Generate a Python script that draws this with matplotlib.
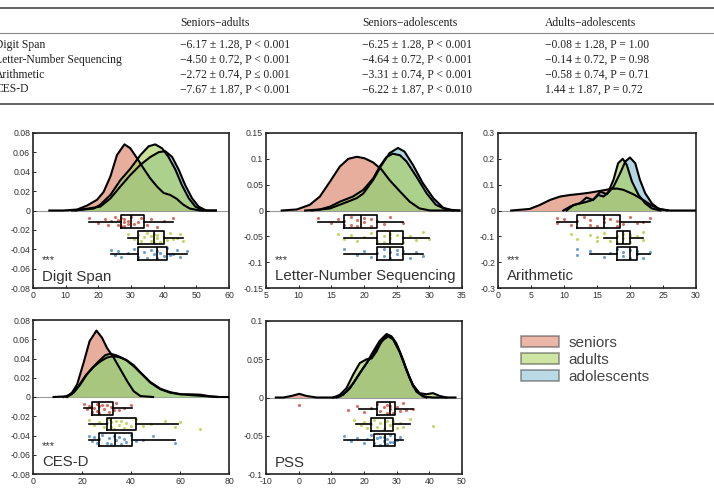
import matplotlib.pyplot as plt
from matplotlib.patches import Patch

plt.rcParams['font.family'] = ['Liberation Sans', 'DejaVu Sans']
plt.rcParams['axes.unicode_minus'] = False

# ---- table ----
TABLE_COLS = ['Seniors\u2212adults', 'Seniors\u2212adolescents', 'Adults\u2212adolescents']
TABLE_ROWS = ['Digit Span', 'Letter-Number Sequencing', 'Arithmetic', 'CES-D']
TABLE_CELLS = [
    ['\u22126.17 \u00b1 1.28, P < 0.001', '\u22126.25 \u00b1 1.28, P < 0.001', '\u22120.08 \u00b1 1.28, P = 1.00'],
    ['\u22124.50 \u00b1 0.72, P < 0.001', '\u22124.64 \u00b1 0.72, P < 0.001', '\u22120.14 \u00b1 0.72, P = 0.98'],
    ['\u22122.72 \u00b1 0.74, P \u2264 0.001', '\u22123.31 \u00b1 0.74, P < 0.001', '\u22120.58 \u00b1 0.74, P = 0.71'],
    ['\u22127.67 \u00b1 1.87, P < 0.001', '\u22126.22 \u00b1 1.87, P < 0.010', '1.44 \u00b1 1.87, P = 0.72'],
]

GROUPS = ['seniors', 'adults', 'adolescents']
FILL = {'seniors': '#d97b61', 'adults': '#a8d058', 'adolescents': '#82bcd2'}
DOT = {'seniors': '#d24a3a', 'adults': '#b4d040', 'adolescents': '#4a8ac8'}

# ---- density curves (x, density) ----
DS_SEN = [(5, 0), (9.2, 0), (13.5, 0.001), (16.5, 0.005), (19.6, 0.011), (21.6, 0.019), (23.7, 0.035),
          (25.7, 0.057), (28, 0.068), (29.8, 0.064), (31.8, 0.054), (33.9, 0.043), (35.9, 0.033),
          (38, 0.0245), (40, 0.018), (42, 0.016), (44, 0.012), (46, 0.006), (48, 0.002), (51, 0), (56, 0)]
DS_ADU = [(12, 0), (18.6, 0.002), (20.6, 0.006), (23.7, 0.016), (26.7, 0.031), (29.8, 0.043),
          (32.9, 0.057), (35.4, 0.066), (37.4, 0.068), (39.5, 0.064), (41.5, 0.055), (43.6, 0.042),
          (45.6, 0.026), (47.7, 0.0125), (49.7, 0.004), (52, 0)]
DS_ADO = [(13, 0), (20.6, 0.004), (23.7, 0.0125), (26.7, 0.0245), (29.8, 0.0365), (32.9, 0.047),
          (35.9, 0.055), (38.5, 0.060), (40.5, 0.061), (42.6, 0.055), (44.6, 0.042), (46.6, 0.026),
          (48.7, 0.0125), (50.7, 0.004), (53, 0), (56, 0)]

LNS_SEN = [(7.4, 0), (9.7, 0.002), (11.7, 0.011), (13.25, 0.027), (14.8, 0.056), (16.3, 0.085),
           (17.6, 0.100), (18.9, 0.104), (20.1, 0.101), (21.4, 0.093), (22.7, 0.079), (23.9, 0.059),
           (25.5, 0.037), (27, 0.017), (28.5, 0.004), (30.1, 0), (34.6, 0)]
LNS_ADU = [(11, 0), (13.25, 0.002), (14.8, 0.0075), (16.3, 0.017), (18.3, 0.027), (19.9, 0.040),
           (21.4, 0.062), (22.4, 0.085), (23.4, 0.103), (24.4, 0.110), (25.5, 0.107), (26.5, 0.095),
           (28, 0.066), (29.6, 0.033), (31, 0.011), (32.6, 0.002), (34.6, 0)]
LNS_ADO = [(12, 0), (14.8, 0.004), (17.3, 0.016), (18.9, 0.024), (19.9, 0.033), (21.4, 0.059),
           (22.7, 0.088), (23.9, 0.111), (25.2, 0.121), (26.2, 0.114), (27.5, 0.088), (29, 0.053),
           (30.6, 0.024), (32.1, 0.0055), (33.6, 0)]

AR_SEN = [(2, 0), (4.8, 0.006), (6.3, 0.021), (7.9, 0.041), (9.4, 0.054), (10.9, 0.060), (12.4, 0.064),
          (13.9, 0.069), (15.5, 0.076), (17, 0.083), (18, 0.085), (19, 0.080), (20.5, 0.063),
          (22, 0.041), (23.3, 0.019), (24.6, 0.005), (26.1, 0), (30, 0)]
AR_ADU = [(9.9, 0), (10.9, 0.015), (11.9, 0.024), (13.2, 0.032), (14.4, 0.041), (15.2, 0.060),
          (16, 0.054), (16.7, 0.071), (17.5, 0.119), (18.2, 0.183), (18.9, 0.200), (19.5, 0.177),
          (20.3, 0.112), (21.3, 0.060), (22.3, 0.028), (23.3, 0.008), (24.6, 0)]
AR_ADO = [(10.4, 0), (11.4, 0.021), (12.4, 0.028), (13.4, 0.050), (14.4, 0.041), (15.5, 0.073),
          (16.5, 0.063), (17.5, 0.092), (18.5, 0.144), (19.3, 0.190), (20, 0.205), (20.8, 0.183),
          (21.5, 0.119), (22.3, 0.067), (23.3, 0.028), (24.3, 0.007), (25.6, 0)]

CES_SEN = [(8.4, 0), (13.9, 0.0007), (15.9, 0.0045), (18, 0.013), (20.7, 0.036), (23.1, 0.058),
           (25.9, 0.069), (28.2, 0.0615), (30.2, 0.051), (32.9, 0.041), (35.6, 0.029), (38.4, 0.0166),
           (41.1, 0.006), (43.8, 0.001), (49, 0)]
CES_ADU = [(12.5, 0), (15.9, 0.003), (18.6, 0.0114), (21.4, 0.022), (24.1, 0.030), (26.8, 0.037),
           (29.5, 0.0435), (31.6, 0.045), (34.3, 0.043), (37.7, 0.039), (41.1, 0.032), (44.5, 0.0235),
           (47.9, 0.0149), (52, 0.008), (56, 0.0045), (60.1, 0.0028), (64.2, 0.0028), (68.3, 0.0024),
           (72.4, 0.0007), (76.5, 0), (80, 0)]
CES_ADO = [(13.9, 0), (16.6, 0.0045), (19.3, 0.013), (22, 0.0235), (24.8, 0.0314), (27.5, 0.037),
           (30.2, 0.041), (32.9, 0.0425), (35.6, 0.041), (38.4, 0.038), (41.1, 0.033), (44.5, 0.024),
           (47.9, 0.0155), (52, 0.0086), (56, 0.005), (60.1, 0.003), (64.2, 0.002), (69.7, 0.001),
           (75.1, 0)]

PSS_SEN = [(-7, 0), (-4.7, 0), (-2.2, 0.002), (0.2, 0.0048), (2.4, 0.002), (5.5, 0), (10.6, 0),
           (12.6, 0.0013), (14.6, 0.0078), (16.7, 0.0187), (18.7, 0.032), (20.8, 0.045), (22.8, 0.060),
           (24.8, 0.074), (26.9, 0.083), (28.4, 0.080), (29.9, 0.071), (32, 0.049), (34, 0.025),
           (36, 0.0078), (38.1, 0.0013), (41.1, 0), (48, 0)]
PSS_ADU = [(10.6, 0), (12.6, 0.0035), (14.6, 0.012), (16.7, 0.030), (18.7, 0.045), (20.8, 0.050),
           (22.3, 0.051), (23.8, 0.060), (25.3, 0.073), (27.1, 0.082), (28.9, 0.077), (30.9, 0.060),
           (33, 0.036), (35, 0.0165), (37, 0.0057), (39.1, 0.0043), (41.1, 0.0057), (43.2, 0.002),
           (45.2, 0)]
PSS_ADO = [(11.6, 0), (13.6, 0.0035), (15.7, 0.012), (17.7, 0.025), (19.7, 0.038), (21.8, 0.051),
           (23.8, 0.064), (25.8, 0.075), (27.4, 0.080), (28.9, 0.076), (30.9, 0.060), (33, 0.036),
           (35, 0.015), (37, 0.0048), (39.1, 0)]

# ---- box stats (whislo, q1, median, q3, whishi) ----
DS_BOX = {'seniors': (17, 27, 30, 34, 43), 'adults': (29, 32, 37, 40, 46), 'adolescents': (24, 32, 38, 41, 47)}
LNS_BOX = {'seniors': (13, 17, 19.5, 22, 26), 'adults': (17, 22, 24, 26, 30), 'adolescents': (17, 22, 24, 26, 29)}
AR_BOX = {'seniors': (9, 12, 16, 18.5, 23), 'adults': (16, 18, 19, 20, 22), 'adolescents': (14, 18, 20, 21, 23)}
CES_BOX = {'seniors': (21, 24, 27, 32.5, 40.5), 'adults': (23, 30, 32, 42, 59), 'adolescents': (23, 27, 33.5, 40.5, 58)}
PSS_BOX = {'seniors': (18.5, 24, 28, 29.5, 35), 'adults': (17.5, 22, 26.5, 29, 34), 'adolescents': (14, 23, 26.5, 29.5, 32)}

# ---- raw scores (dots) ----
DS_DOTS = {'seniors': [17, 20, 22, 23, 24, 25, 26, 26, 27, 27, 28, 28, 28, 29, 29, 30, 31, 32, 33, 35, 36, 38, 40, 43],
           'adults': [29, 31, 32, 33, 34, 35, 36, 36, 37, 37, 38, 38, 39, 40, 41, 42, 43, 44, 45, 46],
           'adolescents': [24, 25, 26, 27, 29, 31, 32, 34, 35, 36, 37, 38, 38, 39, 40, 41, 42, 43, 44, 45, 47]}
LNS_DOTS = {'seniors': [13, 15, 16, 17, 17, 18, 18, 19, 19, 20, 20, 21, 21, 22, 23, 24, 26],
            'adults': [16, 17, 18, 19, 20, 21, 22, 23, 23, 24, 24, 25, 26, 27, 28, 29, 30],
            'adolescents': [17, 19, 20, 21, 22, 23, 23, 24, 24, 25, 25, 26, 27, 28, 29]}
AR_DOTS = {'seniors': [9, 9, 10, 11, 12, 13, 14, 14, 15, 16, 16, 17, 18, 18, 19, 20, 21, 22, 23],
           'adults': [11, 12, 14, 15, 15, 16, 17, 18, 18, 19, 19, 20, 20, 21, 22, 22],
           'adolescents': [12, 12, 14, 16, 17, 18, 19, 19, 20, 20, 21, 21, 22, 23]}
CES_DOTS = {'seniors': [21, 22, 23, 24, 25, 26, 26, 27, 27, 28, 29, 30, 31, 32, 33, 34, 35, 37, 40],
            'adults': [23, 25, 27, 29, 30, 31, 32, 32, 33, 34, 35, 36, 37, 38, 40, 42, 45, 48, 54, 58, 60, 68],
            'adolescents': [23, 24, 25, 26, 27, 28, 30, 31, 32, 33, 34, 35, 36, 37, 38, 40, 42, 45, 49, 58]}
PSS_DOTS = {'seniors': [0, 15, 18, 20, 22, 24, 25, 26, 27, 27, 28, 28, 29, 30, 31, 32, 33, 35],
            'adults': [17, 19, 20, 21, 22, 23, 24, 25, 26, 27, 28, 29, 30, 31, 32, 34, 41],
            'adolescents': [14, 16, 18, 20, 21, 22, 23, 24, 25, 25, 26, 26, 27, 27, 28, 28, 29, 30, 31]}
JITTER = [0.35, -0.1, 0.2, -0.3, 0.05, 0.4, -0.25, 0.15, -0.4, 0.3, -0.05, 0.25, -0.35, 0.1,
          -0.2, 0.45, -0.15, 0.0, 0.3, -0.3, 0.2, -0.45, 0.1, 0.35, -0.1]

PANELS = [
    ('Digit Span', True, (DS_SEN, DS_ADU, DS_ADO), DS_BOX, DS_DOTS, (0, 60), 0.08, 0.02, 10,
     [33, 132.7, 229, 288.3]),
    ('Letter-Number Sequencing', True, (LNS_SEN, LNS_ADU, LNS_ADO), LNS_BOX, LNS_DOTS, (5, 35), 0.15, 0.05, 5,
     [266, 133, 462, 288]),
    ('Arithmetic', True, (AR_SEN, AR_ADU, AR_ADO), AR_BOX, AR_DOTS, (0, 30), 0.3, 0.1, 5,
     [498, 133, 696, 288]),
    ('CES-D', True, (CES_SEN, CES_ADU, CES_ADO), CES_BOX, CES_DOTS, (0, 80), 0.08, 0.02, 20,
     [33, 320, 229, 474]),
    ('PSS', False, (PSS_SEN, PSS_ADU, PSS_ADO), PSS_BOX, PSS_DOTS, (-10, 50), 0.1, 0.05, 10,
     [266, 321, 462, 474]),
]

W, H = 714, 492
fig = plt.figure(figsize=(W / 100, H / 100), dpi=100)

# table on top
serif = 'Liberation Serif'
tfs = 8.4
for yy, lw, col in [(7.5, 1.3, '#555555'), (33, 0.8, '#888888'), (104, 1.3, '#555555')]:
    fig.add_artist(plt.Line2D([0, 1], [1 - yy / H] * 2, color=col, lw=lw))
col_x = [180, 362, 545]
for j, c in enumerate(TABLE_COLS):
    fig.text(col_x[j] / W, 1 - 22.5 / H, c, family=serif, fontsize=tfs, va='center', color='#222222')
row_y = [45, 60, 75, 89.5]
for i, r in enumerate(TABLE_ROWS):
    fig.text(-5 / W, 1 - row_y[i] / H, r, family=serif, fontsize=tfs, va='center', color='#222222')
    for j in range(3):
        fig.text(col_x[j] / W, 1 - row_y[i] / H, TABLE_CELLS[i][j], family=serif, fontsize=tfs,
                 va='center', color='#222222')

for name, stars, curves, box, dots, xlim, ymax, ystep, xstep, px in PANELS:
    l, t, r, b = px
    ax = fig.add_axes([l / W, 1 - b / H, (r - l) / W, (b - t) / H])
    ax.axhline(0, color='#999999', lw=0.8, zorder=1)
    order = [0, 2, 1]
    for k in order:
        g = GROUPS[k]
        xs = [p[0] for p in curves[k]]
        ys = [p[1] for p in curves[k]]
        ax.fill_between(xs, 0, ys, color=FILL[g], alpha=0.62, lw=0, zorder=2)
        ax.plot(xs, ys, color='black', lw=1.5, zorder=3)
    bh = 0.165 * ymax
    for k, g in enumerate(GROUPS):
        yc = -(0.145 + 0.205 * k) * ymax
        vals = dots[g]
        ys = [yc + JITTER[i % len(JITTER)] * bh * 0.9 for i in range(len(vals))]
        ax.scatter(vals, ys, s=5, color=DOT[g], alpha=0.8, lw=0, zorder=4)
        lo, q1, med, q3, hi = box[g]
        stats = [dict(whislo=lo, q1=q1, med=med, q3=q3, whishi=hi, fliers=[])]
        ax.bxp(stats, positions=[yc], widths=bh, orientation='horizontal', showcaps=False,
               showfliers=False, patch_artist=False, manage_ticks=False,
               boxprops=dict(color='black', lw=1.2), whiskerprops=dict(color='black', lw=1.2),
               medianprops=dict(color='black', lw=1.2), zorder=5)
    ax.set_xlim(*xlim)
    ax.set_ylim(-ymax, ymax)
    n = int(round(ymax / ystep))
    ax.set_yticks([i * ystep for i in range(-n, n + 1)])
    ax.set_yticklabels(['%g' % round(i * ystep, 3) for i in range(-n, n + 1)])
    nx = int(round((xlim[1] - xlim[0]) / xstep))
    ax.set_xticks([xlim[0] + i * xstep for i in range(nx + 1)])
    ax.tick_params(labelsize=6.3, labelcolor='#333333', length=2, width=0.6, direction='in', pad=2)
    for s in ax.spines.values():
        s.set_linewidth(1.2)
        s.set_color('#222222')
    if stars:
        ax.text(0.045, 0.18, '***', transform=ax.transAxes, fontsize=8, color='#333333', va='center')
    ax.text(0.045, 0.075, name, transform=ax.transAxes, fontsize=10.8, color='#333333', va='center')

handles = [Patch(facecolor=FILL[g], alpha=0.55, edgecolor='#444444', lw=1.2, label=g) for g in GROUPS]
leg = fig.legend(handles=handles, loc='upper left', bbox_to_anchor=(521 / W, 1 - 336 / H), frameon=False,
                 fontsize=11, handlelength=2.5, handleheight=0.75, handletextpad=0.6, labelspacing=0.2,
                 borderpad=0, borderaxespad=0)
for txt in leg.get_texts():
    txt.set_color('#444444')

fig.savefig('out.png', dpi=100)
